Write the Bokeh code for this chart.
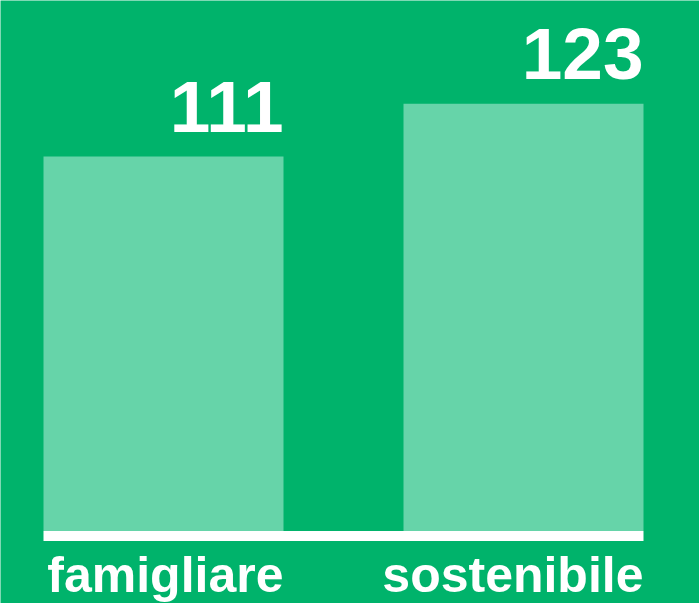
from bokeh.plotting import figure
from bokeh.models import ColumnDataSource, Range1d
from bokeh.core.properties import value
from bokeh.embed import file_html
from bokeh.resources import INLINE

# data
categories = ["famigliare", "sostenibile"]
values = [111, 123]
labels = ["111", "123"]

# style / layout
BG = "#00B36B"
BAR = "#66D4A9"
W = 699
H = 603
BAR_W = 0.6667
BASE = 25.9
PX_PER_X = 360.0
PX_PER_Y = 4.4
X0_PX = 163.0
TOP_V = 146.48
BASE_THICK = 10 / PX_PER_Y

xs = list(range(len(categories)))
right_edges = [x + BAR_W / 2 for x in xs]

src = ColumnDataSource(dict(x=xs, v=values, lab=labels, cat=categories,
                            xr=right_edges, base=[BASE] * len(xs)))

x_start = -X0_PX / PX_PER_X
x_end = x_start + W / PX_PER_X
y_end = TOP_V
y_start = y_end - H / PX_PER_Y

p = figure(width=W, height=H, output_backend="svg", toolbar_location=None,
           x_range=Range1d(x_start, x_end), y_range=Range1d(y_start, y_end),
           x_axis_type=None, y_axis_type=None, min_border=0)
p.background_fill_color = BG
p.border_fill_color = BG
p.outline_line_color = None
p.grid.visible = False

p.vbar(x="x", top="v", bottom=BASE, width=BAR_W, source=src,
       fill_color=BAR, line_color=None)

# baseline
p.quad(left=[xs[0] - BAR_W / 2], right=[xs[-1] + BAR_W / 2],
       top=[BASE], bottom=[BASE - BASE_THICK], fill_color="white", line_color=None)

# value labels
p.text(x="xr", y="v", text="lab", source=src, text_align="right",
       text_baseline="alphabetic", y_offset=-50, text_color="white",
       text_font=value("Liberation Sans"), text_font_style="bold",
       text_font_size="73px")

# category labels
p.text(x="xr", y="base", text="cat", source=src, text_align="right",
       text_baseline="alphabetic", y_offset=44, text_color="white",
       text_font=value("Liberation Sans"), text_font_style="bold",
       text_font_size="50px")

open("out.html", "w").write(file_html(p, INLINE))
